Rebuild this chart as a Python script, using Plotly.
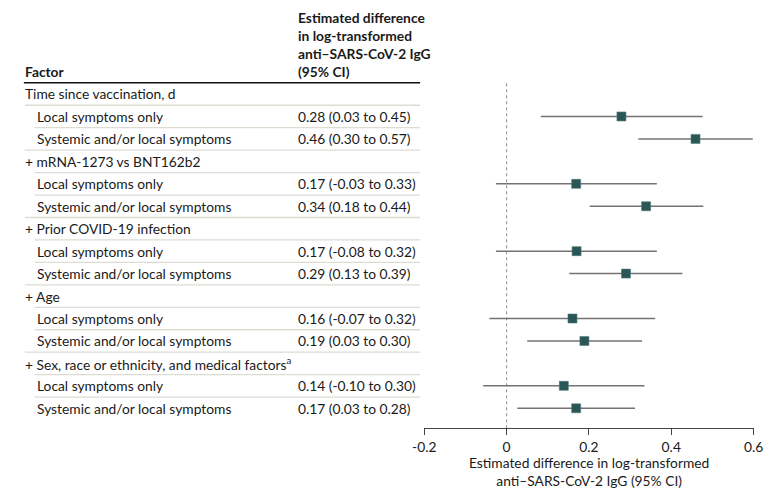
import plotly.graph_objects as go

# ---------------- data ----------------
row_labels = [
    "Time since vaccination, d",
    "Local symptoms only",
    "Systemic and/or local symptoms",
    "+ mRNA-1273 vs BNT162b2",
    "Local symptoms only",
    "Systemic and/or local symptoms",
    "+ Prior COVID-19 infection",
    "Local symptoms only",
    "Systemic and/or local symptoms",
    "+ Age",
    "Local symptoms only",
    "Systemic and/or local symptoms",
    "+ Sex, race or ethnicity, and medical factors<sup>a</sup>",
    "Local symptoms only",
    "Systemic and/or local symptoms",
]
is_group = [True, False, False, True, False, False, True, False, False,
            True, False, False, True, False, False]
ci_text = ["", "0.28 (0.03 to 0.45)", "0.46 (0.30 to 0.57)",
           "", "0.17 (-0.03 to 0.33)", "0.34 (0.18 to 0.44)",
           "", "0.17 (-0.08 to 0.32)", "0.29 (0.13 to 0.39)",
           "", "0.16 (-0.07 to 0.32)", "0.19 (0.03 to 0.30)",
           "", "0.14 (-0.10 to 0.30)", "0.17 (0.03 to 0.28)"]
# plotted estimates and whisker ends (as drawn in the figure)
est = [None, 0.279, 0.459, None, 0.169, 0.339, None, 0.170, 0.290,
       None, 0.160, 0.189, None, 0.139, 0.169]
lo = [None, 0.083, 0.320, None, -0.026, 0.202, None, -0.026, 0.152,
      None, -0.042, 0.050, None, -0.057, 0.026]
hi = [None, 0.476, 0.598, None, 0.365, 0.478, None, 0.365, 0.427,
      None, 0.361, 0.329, None, 0.335, 0.312]
x_ticks = [-0.2, 0, 0.2, 0.4, 0.6]
x_tick_text = ["-0.2", "0", "0.2", "0.4", "0.6"]
header_factor = "Factor"
header_ci = ["Estimated difference", "in log-transformed",
             "anti–SARS-CoV-2 IgG", "(95% CI)"]
x_title = "Estimated difference in log-transformed<br>anti–SARS-CoV-2 IgG (95% CI)"

# ---------------- layout constants ----------------
W, H = 764, 481          # figure size
OX, OY = 8, 8            # page offset of the figure in the window (body margin)

def px(X):               # window x pixel -> paper fraction
    return (X - OX) / W

def py(Y):               # window y pixel -> paper fraction (from bottom)
    return 1 - (Y - OY) / H

FONT = "Lato"
FS = 13.8
TXT = "#1a1a1a"
row0_px, pitch_px = 94.0, 22.45
plot_top_px, plot_bot_px = 81, 428.3
plot_l_px, plot_r_px = 424.3, 763.3

def px_to_row(p):
    return (p - row0_px) / pitch_px

n = len(row_labels)
rows = list(range(n))

fig = go.Figure()

# whiskers
wx, wy = [], []
for i in rows:
    if est[i] is not None:
        wx += [lo[i], hi[i], None]
        wy += [i, i, None]
fig.add_trace(go.Scatter(x=wx, y=wy, mode="lines",
                         line=dict(color="#737373", width=1.5),
                         hoverinfo="skip", showlegend=False))
# markers
mx = [est[i] for i in rows if est[i] is not None]
my = [i for i in rows if est[i] is not None]
fig.add_trace(go.Scatter(x=mx, y=my, mode="markers",
                         marker=dict(symbol="square", size=9, color="#2a5755",
                                     line=dict(color="#4f7a78", width=0.6)),
                         showlegend=False))

shapes = []
# zero reference line
shapes.append(dict(type="line", xref="x", yref="y domain", x0=0, x1=0,
                   y0=0, y1=1, layer="below",
                   line=dict(color="#8a8a8a", width=1, dash="dot")))
# header rule
shapes.append(dict(type="line", xref="paper", yref="y",
                   x0=px(12), x1=px(420), y0=-0.5, y1=-0.5,
                   line=dict(color="#111111", width=1.5)))
# row separators
for i in rows[:-1]:
    x0 = px(13) if (i == 0 or is_group[i + 1]) else px(23)
    shapes.append(dict(type="line", xref="paper", yref="y",
                       x0=x0, x1=px(420), y0=i + 0.5, y1=i + 0.5,
                       line=dict(color="#dcdcd3", width=1.3)))

annotations = []
for i in rows:
    annotations.append(dict(x=px(11.5 if is_group[i] else 23.5), y=i,
                            xref="paper", yref="y", text=row_labels[i],
                            showarrow=False, xanchor="left", yanchor="middle",
                            font=dict(family=FONT, size=FS, color=TXT)))
    if ci_text[i]:
        annotations.append(dict(x=px(292.5), y=i, xref="paper", yref="y",
                                text=ci_text[i], showarrow=False,
                                xanchor="left", yanchor="middle",
                                font=dict(family=FONT, size=FS, color=TXT)))
annotations.append(dict(x=px(11.5), y=py(81.5), xref="paper", yref="paper",
                        text="<b>" + header_factor + "</b>", showarrow=False,
                        xanchor="left", yanchor="bottom",
                        font=dict(family=FONT, size=FS, color=TXT)))
annotations.append(dict(x=px(292.5), y=py(81.5), xref="paper", yref="paper",
                        text="<br>".join("<b>" + s + "</b>" for s in header_ci),
                        showarrow=False, xanchor="left", yanchor="bottom",
                        align="left",
                        font=dict(family=FONT, size=FS, color=TXT)))
annotations.append(dict(x=px((plot_l_px + plot_r_px) / 2), y=py(452),
                        xref="paper", yref="paper", text=x_title,
                        showarrow=False, xanchor="center", yanchor="top",
                        align="center",
                        font=dict(family=FONT, size=FS, color=TXT)))

fig.update_layout(
    width=W, height=H,
    margin=dict(l=0, r=0, t=0, b=0),
    paper_bgcolor="white", plot_bgcolor="white",
    shapes=shapes, annotations=annotations,
    xaxis=dict(domain=[px(plot_l_px), px(plot_r_px)], range=[-0.2, 0.6],
               tickvals=x_ticks, ticktext=x_tick_text,
               showgrid=False, zeroline=False,
               showline=True, linecolor="#444444", linewidth=1,
               ticks="outside", ticklen=6, tickcolor="#444444",
               ticklabeloverflow="allow",
               tickfont=dict(family=FONT, size=FS, color=TXT),
               anchor="y"),
    yaxis=dict(domain=[py(plot_bot_px), py(plot_top_px)],
               range=[px_to_row(plot_bot_px), px_to_row(plot_top_px)],
               showgrid=False, zeroline=False, showticklabels=False,
               showline=False, ticks=""),
)
fig.write_html("out.html")
